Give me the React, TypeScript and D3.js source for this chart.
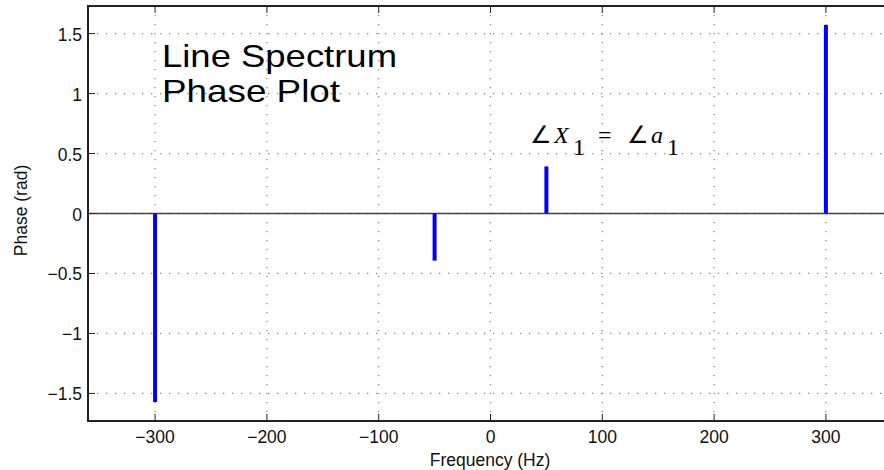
import React from "react";
import * as d3 from "d3";

const freqs = [-300, -50, 0, 50, 300];
const phases = [-1.5708, -0.3927, 0.004, 0.3927, 1.5708];
const xTicks = [-300, -200, -100, 0, 100, 200, 300];
const yTicks = [-1.5, -1, -0.5, 0, 0.5, 1, 1.5];
const yTickLabels = ["\u22121.5", "\u22121", "\u22120.5", "0", "0.5", "1", "1.5"];
const xTickLabels = ["\u2212300", "\u2212200", "\u2212100", "0", "100", "200", "300"];

export default function App() {
  const W = 884, H = 470;
  const left = 88, top = 6, right = 893, bottom = 421;
  const x = d3.scaleLinear().domain([-360, 360]).range([left, right]);
  const y = d3.scaleLinear().domain([-1.73, 1.73]).range([bottom, top]);
  const font = "Liberation Sans, Arial, sans-serif";
  const serif = "Liberation Serif, Times New Roman, serif";
  return (
    <svg width={W} height={H} style={{ position: "absolute", left: 0, top: 0, background: "#fff" }}>
      <rect x={0} y={0} width={W} height={H} fill="#fff" />
      {/* grid */}
      {xTicks.map((t) => (
        <line key={"gx" + t} x1={x(t)} x2={x(t)} y1={top} y2={bottom} stroke="#888" strokeWidth={1.3} strokeDasharray="1.3,7.7" />
      ))}
      {yTicks.map((t) => (
        <line key={"gy" + t} x1={left} x2={right} y1={y(t)} y2={y(t)} stroke="#888" strokeWidth={1.3} strokeDasharray="1.3,7.7" />
      ))}
      {/* zero line */}
      <line x1={left} x2={right} y1={y(0)} y2={y(0)} stroke="#444" strokeWidth={1.5} />
      {/* stems */}
      {freqs.map((f, i) => (
        <line key={"s" + i} x1={x(f)} x2={x(f)} y1={y(0)} y2={y(phases[i])} stroke="#0000ff" strokeWidth={4} />
      ))}
      {/* ticks */}
      {xTicks.map((t) => (
        <g key={"tx" + t}>
          <line x1={x(t)} x2={x(t)} y1={bottom} y2={bottom - 7} stroke="#222" strokeWidth={1} />
          <line x1={x(t)} x2={x(t)} y1={top} y2={top + 7} stroke="#222" strokeWidth={1} />
        </g>
      ))}
      {yTicks.map((t) => (
        <g key={"ty" + t}>
          <line x1={left} x2={left + 7} y1={y(t)} y2={y(t)} stroke="#222" strokeWidth={1} />
          <line x1={right} x2={right - 7} y1={y(t)} y2={y(t)} stroke="#222" strokeWidth={1} />
        </g>
      ))}
      {/* box */}
      <rect x={left} y={top} width={right - left} height={bottom - top} fill="none" stroke="#222" strokeWidth={2} />
      {/* tick labels */}
      {xTicks.map((t, i) => (
        <text key={"lx" + t} x={x(t)} y={443} textAnchor="middle" fontFamily={font} fontSize={17.5} fill="#111">
          {xTickLabels[i]}
        </text>
      ))}
      {yTicks.map((t, i) => (
        <text key={"ly" + t} x={left - 6} y={y(t) + 7} textAnchor="end" fontFamily={font} fontSize={17.5} fill="#111">
          {yTickLabels[i]}
        </text>
      ))}
      {/* axis labels */}
      <text x={490} y={466} textAnchor="middle" fontFamily={font} fontSize={17.5} fill="#111">Frequency (Hz)</text>
      <text transform={`translate(27,${(top + bottom) / 2 - 3}) rotate(-90)`} textAnchor="middle" fontFamily={font} fontSize={17.5} fill="#111">Phase (rad)</text>
      {/* title text */}
      <text x={162} y={67} fontFamily={font} fontSize={32} fill="#000" textLength={235} lengthAdjust="spacingAndGlyphs">Line Spectrum</text>
      <text x={162} y={102} fontFamily={font} fontSize={32} fill="#000" textLength={178} lengthAdjust="spacingAndGlyphs">Phase Plot</text>
      {/* annotation */}
      <text fontFamily={serif} fontSize={24} fill="#000">
        <tspan x={530} y={143}>∠</tspan>
        <tspan x={554} y={143} fontStyle="italic">X</tspan>
        <tspan x={573} y={155}>1</tspan>
        <tspan x={598} y={143}>=</tspan>
        <tspan x={627} y={143}>∠</tspan>
        <tspan x={651} y={143} fontStyle="italic">a</tspan>
        <tspan x={667} y={155}>1</tspan>
      </text>
    </svg>
  );
}
